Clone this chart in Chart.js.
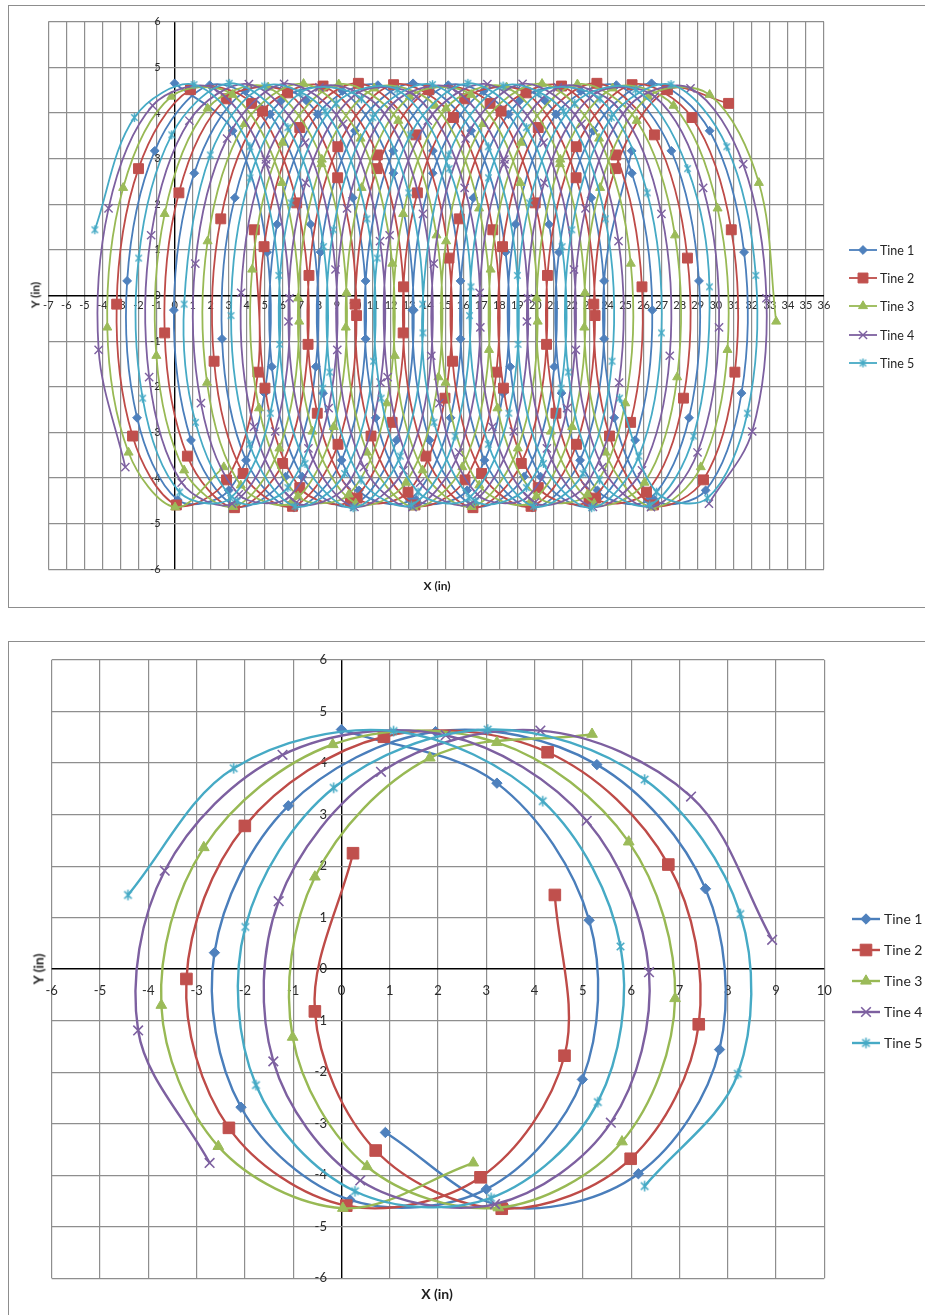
<!DOCTYPE html>
<html>
<head>
<meta charset="utf-8">
<title>Tine paths</title>
<script src="https://cdn.jsdelivr.net/npm/chart.js@4.4.1/dist/chart.umd.min.js"></script>
<style>
  html, body { margin: 0; padding: 0; background: #fff; overflow: hidden; width: 925px; height: 1315px; }
  .frame { position: absolute; border: 1px solid #8d8d8d; background: #fff; }
  canvas { position: absolute; }
  .axis-title { position: absolute; font-family: Lato, "Liberation Sans", sans-serif; font-weight: bold; color: #1e1e1e; white-space: nowrap; }
  .y-title { transform: translate(-50%, -50%) rotate(-90deg); }
  .x-title { transform: translate(-50%, -50%); }
</style>
</head>
<body>
<div class="frame" style="left:8px;top:5px;width:960px;height:601px"></div>
<div class="frame" style="left:8px;top:641px;width:960px;height:680px"></div>
<canvas id="overview" width="960" height="610" style="left:0;top:0"></canvas>
<canvas id="detail" width="960" height="685" style="left:0;top:630px"></canvas>
<div class="axis-title y-title" style="left:35px;top:295px;font-size:12px">Y (in)</div>
<div class="axis-title x-title" style="left:437px;top:585px;font-size:12px">X (in)</div>
<div class="axis-title y-title" style="left:38px;top:969px;font-size:14px">Y (in)</div>
<div class="axis-title x-title" style="left:437px;top:1293px;font-size:14px">X (in)</div>
<script>
// Series names
const tineNames = ['Tine 1', 'Tine 2', 'Tine 3', 'Tine 4', 'Tine 5'];

// Tine tip positions (inches), one entry per time step
const tine1X = [
  0.00, 3.22, 5.13, 4.99, 3.00, 0.18, -2.08, -2.63, -1.10, 1.95, 5.29, 7.54, 7.83, 6.15, 3.39, 0.91, -0.04, 1.09, 3.92, 7.31, 9.88, 10.59, 9.26,
  6.61, 3.96, 2.63, 3.34, 5.91, 9.30, 12.13, 13.26, 12.31, 9.83, 7.07, 5.39, 5.68, 7.93, 11.27, 14.32, 15.85, 15.30, 13.04, 10.22, 8.23, 8.09, 10.00,
  13.22, 16.44, 18.35, 18.21, 16.22, 13.40, 11.15, 10.59, 12.12, 15.17, 18.51, 20.76, 21.05, 19.37, 16.61, 14.13, 13.18, 14.31, 17.14, 20.53, 23.10, 23.81, 22.48,
  19.83, 17.18, 15.85, 16.56, 19.13, 22.52, 25.35, 26.48, 25.53, 23.05, 20.29, 18.61, 18.90, 21.15, 24.49, 27.54, 29.07, 28.52, 26.26, 23.44, 21.45, 21.31, 23.22,
  26.44, 29.66, 31.57, 31.43, 29.44, 26.62, 24.37, 23.81, 25.34
];
const tine1Y = [
  4.65, 3.61, 0.95, -2.14, -4.27, -4.48, -2.68, 0.32, 3.17, 4.61, 3.97, 1.56, -1.56, -3.97, -4.61, -3.17, -0.32, 2.68, 4.48, 4.27, 2.14, -0.95, -3.61,
  -4.65, -3.61, -0.95, 2.14, 4.27, 4.48, 2.68, -0.32, -3.17, -4.61, -3.97, -1.56, 1.56, 3.97, 4.61, 3.17, 0.32, -2.68, -4.48, -4.27, -2.14, 0.95, 3.61,
  4.65, 3.61, 0.95, -2.14, -4.27, -4.48, -2.68, 0.32, 3.17, 4.61, 3.97, 1.56, -1.56, -3.97, -4.61, -3.17, -0.32, 2.68, 4.48, 4.27, 2.14, -0.95, -3.61,
  -4.65, -3.61, -0.95, 2.14, 4.27, 4.48, 2.68, -0.32, -3.17, -4.61, -3.97, -1.56, 1.56, 3.97, 4.61, 3.17, 0.32, -2.68, -4.48, -4.27, -2.14, 0.95, 3.61,
  4.65, 3.61, 0.95, -2.14, -4.27, -4.48, -2.68, 0.32, 3.17
];

const tine2X = [
  4.42, 4.62, 2.88, 0.10, -2.33, -3.21, -2.00, 0.88, 4.27, 6.77, 7.40, 5.99, 3.32, 0.71, -0.55, 0.24, 2.86, 6.26, 9.04, 10.09, 9.06, 6.54, 3.80,
  2.19, 2.56, 4.88, 8.23, 11.24, 12.69, 12.06, 9.75, 6.94, 5.01, 4.96, 6.94, 10.19, 13.38, 15.21, 14.99, 12.94, 10.12, 7.91, 7.45, 9.05, 12.14, 15.46,
  17.64, 17.84, 16.10, 13.33, 10.89, 10.01, 11.22, 14.10, 17.49, 19.99, 20.62, 19.22, 16.54, 13.93, 12.67, 13.46, 16.08, 19.48, 22.26, 23.31, 22.28, 19.76, 17.02,
  15.41, 15.78, 18.10, 21.45, 24.46, 25.91, 25.28, 22.97, 20.16, 18.23, 18.18, 20.16, 23.41, 26.60, 28.43, 28.21, 26.16, 23.34, 21.14, 20.67, 22.27, 25.36, 28.68,
  30.86, 31.06, 29.32, 26.55, 24.11, 23.24, 24.44, 27.32, 30.71
];
const tine2Y = [
  1.44, -1.68, -4.04, -4.59, -3.08, -0.19, 2.78, 4.51, 4.21, 2.03, -1.07, -3.68, -4.65, -3.52, -0.82, 2.25, 4.31, 4.44, 2.58, -0.44, -3.26, -4.62, -3.90,
  -1.44, 1.68, 4.04, 4.59, 3.08, 0.19, -2.78, -4.51, -4.21, -2.03, 1.07, 3.68, 4.65, 3.52, 0.82, -2.25, -4.31, -4.44, -2.58, 0.44, 3.26, 4.62, 3.90,
  1.44, -1.68, -4.04, -4.59, -3.08, -0.19, 2.78, 4.51, 4.21, 2.03, -1.07, -3.68, -4.65, -3.52, -0.82, 2.25, 4.31, 4.44, 2.58, -0.44, -3.26, -4.62, -3.90,
  -1.44, 1.68, 4.04, 4.59, 3.08, 0.19, -2.78, -4.51, -4.21, -2.03, 1.07, 3.68, 4.65, 3.52, 0.82, -2.25, -4.31, -4.44, -2.58, 0.44, 3.26, 4.62, 3.90,
  1.44, -1.68, -4.04, -4.59, -3.08, -0.19, 2.78, 4.51, 4.21
];

const tine3X = [
  2.73, 0.03, -2.55, -3.73, -2.85, -0.18, 3.22, 5.95, 6.91, 5.81, 3.25, 0.53, -1.01, -0.55, 1.83, 5.19, 8.16, 9.53, 8.82, 6.47, 3.67, 1.80, 1.83,
  3.88, 7.15, 10.31, 12.07, 11.76, 9.66, 6.84, 4.68, 4.30, 5.98, 9.10, 12.40, 14.52, 14.63, 12.83, 10.04, 7.64, 6.85, 8.14, 11.06, 14.44, 16.88, 17.43,
  15.95, 13.25, 10.67, 9.49, 10.37, 13.04, 16.44, 19.17, 20.13, 19.03, 16.47, 13.75, 12.21, 12.67, 15.05, 18.41, 21.38, 22.75, 22.04, 19.69, 16.89, 15.02, 15.05,
  17.10, 20.37, 23.53, 25.29, 24.98, 22.89, 20.06, 17.90, 17.52, 19.20, 22.33, 25.62, 27.74, 27.86, 26.05, 23.26, 20.86, 20.07, 21.36, 24.28, 27.66, 30.10, 30.65,
  29.17, 26.47, 23.89, 22.71, 23.59, 26.26, 29.66, 32.39, 33.35
];
const tine3Y = [
  -3.76, -4.64, -3.44, -0.70, 2.36, 4.36, 4.40, 2.47, -0.57, -3.35, -4.63, -3.83, -1.32, 1.79, 4.10, 4.56, 2.98, 0.06, -2.88, -4.54, -4.16, -1.91, 1.19,
  3.76, 4.64, 3.44, 0.70, -2.36, -4.36, -4.40, -2.47, 0.57, 3.35, 4.63, 3.83, 1.32, -1.79, -4.10, -4.56, -2.98, -0.06, 2.88, 4.54, 4.16, 1.91, -1.19,
  -3.76, -4.64, -3.44, -0.70, 2.36, 4.36, 4.40, 2.47, -0.57, -3.35, -4.63, -3.83, -1.32, 1.79, 4.10, 4.56, 2.98, 0.06, -2.88, -4.54, -4.16, -1.91, 1.19,
  3.76, 4.64, 3.44, 0.70, -2.36, -4.36, -4.40, -2.47, 0.57, 3.35, 4.63, 3.83, 1.32, -1.79, -4.10, -4.56, -2.98, -0.06, 2.88, 4.54, 4.16, 1.91, -1.19,
  -3.76, -4.64, -3.44, -0.70, 2.36, 4.36, 4.40, 2.47, -0.57
];

const tine4X = [
  -2.73, -4.21, -3.66, -1.22, 2.16, 5.08, 6.37, 5.58, 3.18, 0.39, -1.41, -1.30, 0.82, 4.12, 7.24, 8.92, 8.54, 6.38, 3.56, 1.46, 1.15, 2.91, 6.07,
  9.34, 11.39, 11.42, 9.55, 6.75, 4.40, 3.69, 5.06, 8.03, 11.39, 13.77, 14.23, 12.69, 9.97, 7.42, 6.31, 7.27, 10.00, 13.40, 16.08, 16.95, 15.77, 13.19,
  10.49, 9.02, 9.56, 12.00, 15.38, 18.30, 19.59, 18.80, 16.40, 13.61, 11.81, 11.92, 14.04, 17.34, 20.46, 22.14, 21.76, 19.60, 16.78, 14.68, 14.37, 16.13, 19.29,
  22.56, 24.61, 24.64, 22.78, 19.97, 17.62, 16.91, 18.28, 21.25, 24.61, 26.99, 27.45, 25.91, 23.19, 20.64, 19.53, 20.49, 23.22, 26.62, 29.30, 30.18, 28.99, 26.41,
  23.71, 22.24, 22.78, 25.22, 28.60, 31.52, 32.81, 32.02, 29.62
];
const tine4Y = [
  -3.76, -1.19, 1.91, 4.16, 4.54, 2.88, -0.06, -2.98, -4.56, -4.10, -1.79, 1.32, 3.83, 4.63, 3.35, 0.57, -2.47, -4.40, -4.36, -2.36, 0.70, 3.44, 4.64,
  3.76, 1.19, -1.91, -4.16, -4.54, -2.88, 0.06, 2.98, 4.56, 4.10, 1.79, -1.32, -3.83, -4.63, -3.35, -0.57, 2.47, 4.40, 4.36, 2.36, -0.70, -3.44, -4.64,
  -3.76, -1.19, 1.91, 4.16, 4.54, 2.88, -0.06, -2.98, -4.56, -4.10, -1.79, 1.32, 3.83, 4.63, 3.35, 0.57, -2.47, -4.40, -4.36, -2.36, 0.70, 3.44, 4.64,
  3.76, 1.19, -1.91, -4.16, -4.54, -2.88, 0.06, 2.98, 4.56, 4.10, 1.79, -1.32, -3.83, -4.63, -3.35, -0.57, 2.47, 4.40, 4.36, 2.36, -0.70, -3.44, -4.64,
  -3.76, -1.19, 1.91, 4.16, 4.54, 2.88, -0.06, -2.98, -4.56
];

const tine5X = [
  -4.42, -2.23, 1.08, 4.17, 5.78, 5.31, 3.10, 0.28, -1.77, -1.99, -0.16, 3.03, 6.28, 8.26, 8.21, 6.28, 3.47, 1.16, 0.53, 1.98, 4.99, 8.34, 10.66,
  11.03, 9.42, 6.68, 4.16, 3.13, 4.18, 6.96, 10.36, 12.98, 13.77, 12.51, 9.90, 7.23, 5.82, 6.45, 8.95, 12.34, 15.22, 16.43, 15.55, 13.12, 10.34, 8.60,
  8.80, 10.99, 14.30, 17.39, 19.00, 18.53, 16.32, 13.50, 11.45, 11.23, 13.06, 16.26, 19.50, 21.48, 21.43, 19.50, 16.69, 14.38, 13.75, 15.20, 18.21, 21.56, 23.88,
  24.25, 22.64, 19.90, 17.39, 16.35, 17.40, 20.18, 23.58, 26.20, 26.99, 25.74, 23.12, 20.45, 19.04, 19.67, 22.18, 25.56, 28.44, 29.65, 28.77, 26.34, 23.56, 21.82,
  22.02, 24.21, 27.52, 30.61, 32.22, 31.75, 29.54, 26.72, 24.67
];
const tine5Y = [
  1.44, 3.90, 4.62, 3.26, 0.44, -2.58, -4.44, -4.31, -2.25, 0.82, 3.52, 4.65, 3.68, 1.07, -2.03, -4.21, -4.51, -2.78, -0.19, 3.08, 4.59, 4.04, 1.68,
  -1.44, -3.90, -4.62, -3.26, -0.44, 2.58, 4.44, 4.31, 2.25, -0.82, -3.52, -4.65, -3.68, -1.07, 2.03, 4.21, 4.51, 2.78, 0.19, -3.08, -4.59, -4.04, -1.68,
  1.44, 3.90, 4.62, 3.26, 0.44, -2.58, -4.44, -4.31, -2.25, 0.82, 3.52, 4.65, 3.68, 1.07, -2.03, -4.21, -4.51, -2.78, -0.19, 3.08, 4.59, 4.04, 1.68,
  -1.44, -3.90, -4.62, -3.26, -0.44, 2.58, 4.44, 4.31, 2.25, -0.82, -3.52, -4.65, -3.68, -1.07, 2.03, 4.21, 4.51, 2.78, 0.19, -3.08, -4.59, -4.04, -1.68,
  1.44, 3.90, 4.62, 3.26, 0.44, -2.58, -4.44, -4.31, -2.25
];

// Axis ranges
const overviewXRange = [-7, 36];
const detailXRange = [-6, 10];
const yRange = [-6, 6];
// The close-up chart shows the opening steps of each path
const detailStepCount = 16;

const tines = [
  { x: tine1X, y: tine1Y },
  { x: tine2X, y: tine2Y },
  { x: tine3X, y: tine3Y },
  { x: tine4X, y: tine4Y },
  { x: tine5X, y: tine5Y }
];

const lineColors = ['#4a7ebb', '#be4b48', '#98b954', '#7d60a0', '#46aac5'];
const fillColors = ['#4f81bd', '#c0504d', '#9bbb59', '#8064a2', '#4bacc6'];
const fontFamily = 'Lato, "Liberation Sans", sans-serif';
const gridGray = '#8e8e8e';

// Asterisk marker (diagonal cross plus a vertical bar)
function asterisk(half, color, width) {
  const d = Math.ceil(half * 2 + 4);
  const c = document.createElement('canvas');
  c.width = d; c.height = d;
  const g = c.getContext('2d');
  const m = d / 2, k = half * 0.72;
  g.strokeStyle = color;
  g.lineWidth = width;
  g.beginPath();
  g.moveTo(m, m - half); g.lineTo(m, m + half);
  g.moveTo(m - k, m - k); g.lineTo(m + k, m + k);
  g.moveTo(m + k, m - k); g.lineTo(m - k, m + k);
  g.stroke();
  return c;
}

function markerSet(s) {
  return [
    { style: 'rectRot', radius: s.diamond, border: 1 },
    { style: 'rect', radius: s.square, border: 1 },
    { style: 'triangle', radius: s.triangle, border: 1 },
    { style: 'crossRot', radius: s.cross, border: s.crossWidth },
    { style: asterisk(s.star, lineColors[4], s.crossWidth), radius: s.star, border: 0 }
  ];
}

function buildDatasets(count, lineWidth, markers) {
  return tines.map((t, i) => ({
    label: tineNames[i],
    data: t.x.slice(0, count).map((x, k) => ({ x: x, y: t.y[k] })),
    showLine: true,
    tension: 0.34,
    borderColor: lineColors[i],
    borderWidth: lineWidth,
    pointStyle: markers[i].style,
    pointRadius: markers[i].radius,
    pointBackgroundColor: fillColors[i],
    pointBorderColor: i >= 3 ? lineColors[i] : fillColors[i],
    pointBorderWidth: markers[i].border,
    order: 4 - i
  }));
}

// Draws one legend marker in the same shapes as the series
function drawLegendMarker(ctx, m, color, fill, x, y) {
  ctx.save();
  ctx.fillStyle = fill;
  ctx.strokeStyle = color;
  ctx.lineWidth = m.border || 1;
  const r = m.radius;
  ctx.beginPath();
  if (typeof m.style !== 'string') {
    ctx.drawImage(m.style, x - m.style.width / 2, y - m.style.height / 2);
    ctx.restore();
    return;
  }
  if (m.style === 'rectRot') {
    ctx.moveTo(x - r, y); ctx.lineTo(x, y - r); ctx.lineTo(x + r, y); ctx.lineTo(x, y + r); ctx.closePath();
    ctx.fill(); ctx.stroke();
  } else if (m.style === 'rect') {
    const h = r * Math.SQRT1_2;
    ctx.rect(x - h, y - h, 2 * h, 2 * h);
    ctx.fill(); ctx.stroke();
  } else if (m.style === 'triangle') {
    for (let j = 0; j < 3; j++) {
      const a = j * 2 * Math.PI / 3;
      const px = x + Math.sin(a) * r, py = y - Math.cos(a) * r;
      if (j === 0) ctx.moveTo(px, py); else ctx.lineTo(px, py);
    }
    ctx.closePath();
    ctx.fill(); ctx.stroke();
  } else if (m.style === 'crossRot') {
    const h = r * Math.SQRT1_2;
    ctx.moveTo(x - h, y - h); ctx.lineTo(x + h, y + h);
    ctx.moveTo(x + h, y - h); ctx.lineTo(x - h, y + h);
    ctx.stroke();
  }
  ctx.restore();
}

const lineLegend = {
  id: 'lineLegend',
  afterDraw(chart, args, opts) {
    if (!opts || !opts.rows) return;
    const ctx = chart.ctx;
    ctx.save();
    chart.data.datasets.forEach((ds, i) => {
      const y = opts.rows[i];
      ctx.strokeStyle = ds.borderColor;
      ctx.lineWidth = ds.borderWidth;
      ctx.beginPath();
      ctx.moveTo(opts.x0, y);
      ctx.lineTo(opts.x1, y);
      ctx.stroke();
      drawLegendMarker(ctx, opts.markers[i], ds.pointBorderColor, ds.pointBackgroundColor, (opts.x0 + opts.x1) / 2, y);
      ctx.fillStyle = '#262626';
      ctx.font = opts.fontSize + 'px ' + fontFamily;
      ctx.textAlign = 'left';
      ctx.textBaseline = 'middle';
      ctx.fillText(ds.label, opts.textX, y + 0.5);
    });
    ctx.restore();
  }
};

function chartOptions(cfg) {
  const zeroColor = c => (c.tick && c.tick.value === 0 ? '#000000' : gridGray);
  const zeroWidth = c => (c.tick && c.tick.value === 0 ? 1.4 : 1.2);
  return {
    responsive: false,
    animation: false,
    events: [],
    layout: { padding: cfg.padding },
    plugins: {
      legend: { display: false },
      tooltip: { enabled: false },
      lineLegend: cfg.legend
    },
    scales: {
      x: {
        type: 'linear',
        min: cfg.xRange[0],
        max: cfg.xRange[1],
        position: { y: 0 },
        border: { display: false },
        grid: { color: zeroColor, lineWidth: zeroWidth, drawTicks: false },
        ticks: {
          stepSize: 1, autoSkip: false, maxRotation: 0, minRotation: 0,
          padding: cfg.xTickPad, color: '#2b2b2b',
          font: { family: fontFamily, size: cfg.tickSize }
        }
      },
      y: {
        type: 'linear',
        min: yRange[0],
        max: yRange[1],
        position: { x: cfg.yLabelAt },
        border: { display: false },
        grid: { color: zeroColor, lineWidth: zeroWidth, drawTicks: false },
        ticks: {
          stepSize: 1, autoSkip: false,
          color: '#2b2b2b',
          font: { family: fontFamily, size: cfg.tickSize }
        }
      }
    }
  };
}

Chart.register(lineLegend);

const overviewMarkers = markerSet({ diamond: 4.4, square: 7, triangle: 5.2, cross: 5.8, star: 4.4, crossWidth: 1.4 });
const detailMarkers = markerSet({ diamond: 5.2, square: 8.2, triangle: 6.2, cross: 6.8, star: 5.2, crossWidth: 1.6 });

new Chart(document.getElementById('overview'), {
  type: 'scatter',
  data: { datasets: buildDatasets(tine1X.length, 1.8, overviewMarkers) },
  options: chartOptions({
    padding: { left: 48.3, top: 21.7, right: 136, bottom: 40.7 },
    xRange: overviewXRange,
    tickSize: 11,
    xTickPad: 3,
    yLabelAt: -0.78,
    legend: { rows: [250, 278, 306, 335, 363], x0: 849, x1: 877, textX: 880, fontSize: 12.5, markers: overviewMarkers }
  })
});

new Chart(document.getElementById('detail'), {
  type: 'scatter',
  data: { datasets: buildDatasets(detailStepCount, 2.4, detailMarkers) },
  options: chartOptions({
    padding: { left: 51.7, top: 30, right: 135.7, bottom: 36.7 },
    xRange: detailXRange,
    tickSize: 13,
    xTickPad: 14,
    yLabelAt: -0.3,
    legend: { rows: [289, 320, 351, 382, 413], x0: 852, x1: 880, textX: 884, fontSize: 14, markers: detailMarkers }
  })
});
</script>
</body>
</html>
